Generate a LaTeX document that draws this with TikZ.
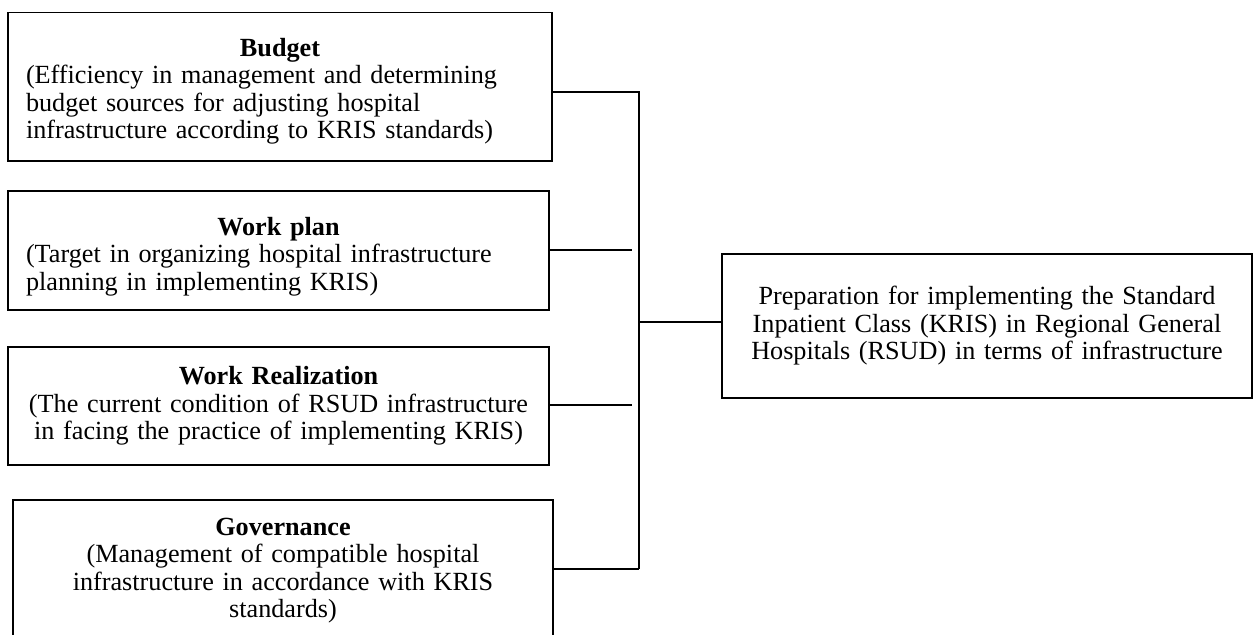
\documentclass[tikz,border=0pt]{standalone}
\usepackage{fontspec}
\setmainfont{Liberation Serif}
\begin{document}
\begin{tikzpicture}[x=0.5pt, y=-0.5pt,
		box/.style={draw, line width=0.9pt, inner xsep=9pt, inner ysep=0pt,
			font=\fontsize{13.1}{13.75}\selectfont},
		link/.style={line width=0.75pt}]

	\useasboundingbox (0,0) rectangle (1259,634);
	\clip (0,0) rectangle (1259,634);

	\node[box, minimum width=272pt, minimum height=74.25pt, text width=254pt, align=left] (budget) at (280,86.75)
		{\noindent\rule{0pt}{13.5pt}\makebox[\hsize]{\textbf{Budget}}\\(Efficiency in management and determining\\budget sources for adjusting hospital\\infrastructure according to KRIS standards)};
	\node[box, minimum width=270.5pt, minimum height=59.5pt, text width=252.5pt, align=left] (plan) at (278.5,250.5)
		{\noindent\rule{0pt}{15pt}\makebox[\hsize]{\textbf{Work plan}}\\(Target in organizing hospital infrastructure\\planning in implementing KRIS)};
	\node[box, minimum width=270.5pt, minimum height=59pt, text width=252.5pt, align=center] (real) at (278.5,406)
		{\textbf{Work Realization}\\(The current condition of RSUD infrastructure\\in facing the practice of implementing KRIS)};
	\node[box, minimum width=270pt, minimum height=70.5pt, text width=252pt, align=center] (gov) at (283,570.5)
		{\textbf{Governance}\\(Management of compatible hospital\\infrastructure in accordance with KRIS\\standards)};
	\node[box, minimum width=265pt, minimum height=72pt, text width=247pt, align=center] (prep) at (987,326)
		{Preparation for implementing the Standard\\Inpatient Class (KRIS) in Regional General\\Hospitals (RSUD) in terms of infrastructure};

	\coordinate (jb) at (639,92);
	\coordinate (jp) at (632,250);
	\coordinate (jr) at (632,405);
	\coordinate (jg) at (639,569);
	\coordinate (jm) at (639,322);

	\draw[link] (budget.east |- jb) -- (jb) -- (jg);
	\draw[link] (plan.east |- jp) -- (jp);
	\draw[link] (real.east |- jr) -- (jr);
	\draw[link] (gov.east |- jg) -- (jg);
	\draw[link] (jm) -- (prep.west |- jm);
\end{tikzpicture}
\end{document}
